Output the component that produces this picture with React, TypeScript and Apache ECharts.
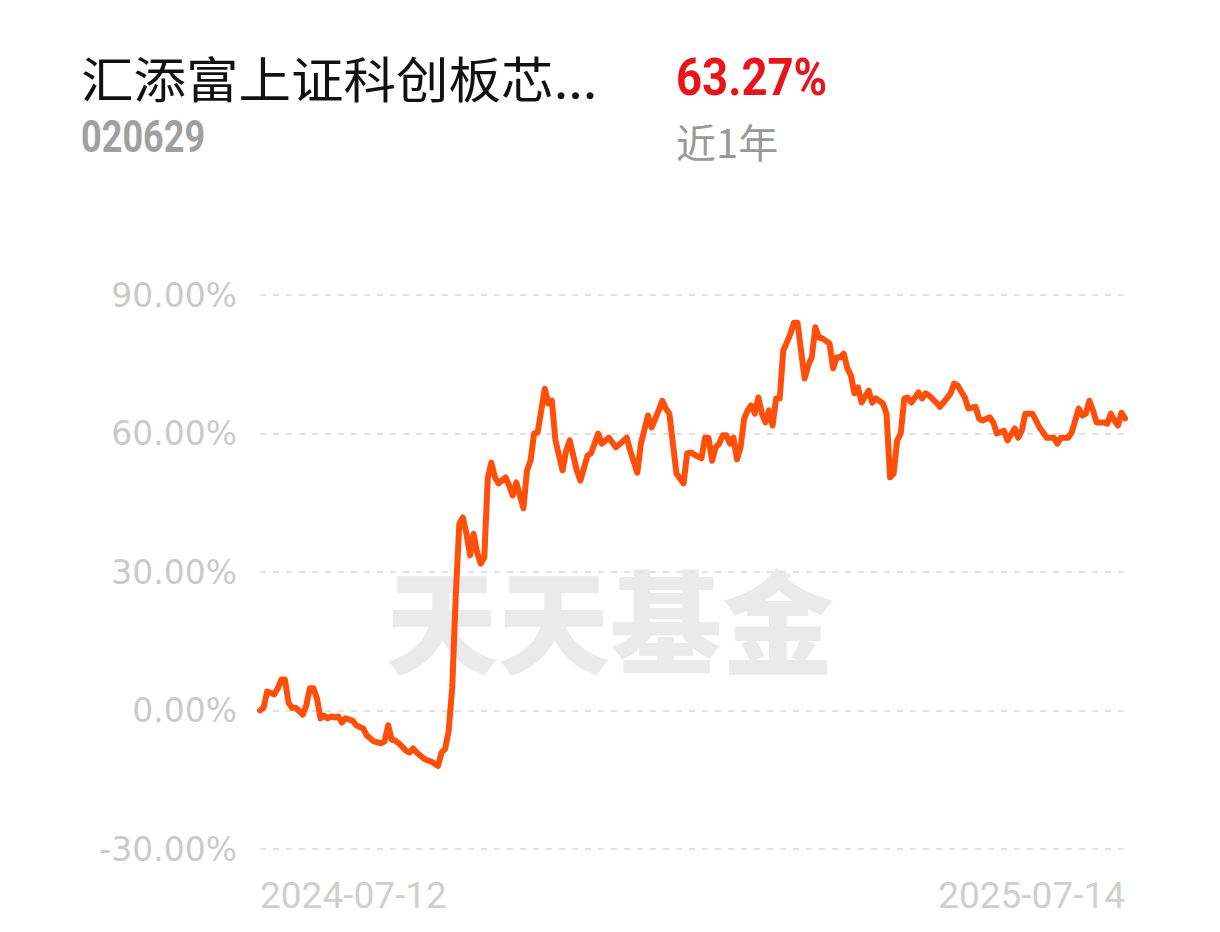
import React, { useEffect, useRef } from "react";
import * as echarts from "echarts";

// trading-day index since 2024-07-12 (0) to 2025-07-14 (243)
const tradingDays = [
  0, 1, 2, 4, 5, 6, 7, 8, 9, 10, 12, 13, 14, 15, 16, 17, 18, 19, 20, 21, 22, 23, 24, 26, 27, 29, 30, 32, 34, 35,
  36, 37, 38, 39, 41, 42, 43, 44, 46, 47, 48, 50, 51, 52, 53, 54, 55, 56, 57, 58, 59, 60, 61, 62, 63, 64, 65, 66, 67, 69,
  70, 71, 72, 74, 75, 76, 77, 78, 80, 81, 82, 83, 85, 86, 87, 89, 90, 92, 93, 95, 96, 98, 100, 103, 104, 106, 107, 109, 110, 112,
  113, 114, 115, 116, 117, 119, 120, 121, 123, 124, 125, 126, 127, 128, 129, 130, 131, 132, 133, 134, 135, 136, 137, 138, 139, 140, 141, 142, 143, 144,
  145, 146, 147, 148, 149, 150, 151, 153, 154, 155, 156, 157, 158, 160, 161, 162, 163, 164, 165, 166, 167, 168, 169, 171, 172, 173, 175, 176, 177, 178,
  179, 180, 181, 182, 183, 185, 186, 187, 188, 190, 191, 192, 194, 195, 196, 198, 199, 200, 201, 202, 203, 205, 206, 207, 209, 210, 212, 213, 214, 215,
  217, 219, 220, 221, 223, 224, 225, 227, 228, 230, 231, 232, 233, 234, 235, 237, 238, 239, 240, 241, 242, 243,
];

// cumulative return (%)
const returns = [
  0.0, 0.6, 4.1, 3.5, 4.8, 6.7, 6.7, 1.7, 0.6, 0.6, -0.9, 1.1, 4.8, 4.8, 2.6, -1.7, -1.1, -1.7, -1.3, -1.5, -1.3, -2.6, -1.7, -2.2, -3.2, -3.9, -5.4, -6.7, -7.1, -6.7,
  -3.2, -6.3, -6.5, -7.1, -8.7, -9.1, -8.2, -9.1, -10.4, -10.8, -11.0, -12.0, -9.1, -8.3, -4.5, 5.0, 25.0, 40.5, 41.8, 38.3, 33.6, 38.3, 34.2, 31.8, 33.1, 50.5, 53.7, 50.5, 49.2, 50.5,
  48.7, 46.6, 49.4, 43.8, 52.0, 54.1, 60.0, 60.2, 69.7, 66.5, 67.1, 58.5, 52.0, 56.3, 58.5, 52.0, 49.8, 55.2, 55.7, 60.0, 57.8, 59.1, 57.0, 59.1, 56.3, 51.5, 57.8, 63.9, 61.3, 65.0,
  67.1, 65.4, 64.3, 57.8, 51.3, 49.2, 55.7, 55.9, 55.0, 54.6, 59.1, 59.1, 54.1, 57.0, 57.8, 59.6, 59.6, 57.8, 59.1, 54.4, 57.0, 63.2, 65.0, 66.1, 64.3, 67.8, 64.3, 62.4, 65.0, 61.7,
  67.6, 67.6, 78.0, 79.7, 81.6, 84.0, 84.0, 71.9, 74.7, 76.5, 83.0, 80.8, 80.6, 79.5, 74.1, 76.5, 76.5, 77.3, 74.1, 72.6, 68.7, 70.0, 66.7, 69.3, 66.7, 67.6, 66.5, 64.3, 50.5, 51.3,
  58.5, 60.0, 67.6, 67.8, 66.7, 68.9, 67.6, 68.7, 68.2, 66.7, 65.8, 66.7, 68.7, 70.8, 70.4, 67.8, 65.4, 65.6, 65.8, 63.2, 62.8, 63.5, 62.4, 60.0, 60.6, 58.5, 61.1, 59.1, 60.6, 64.3,
  64.3, 61.3, 60.2, 59.1, 59.1, 57.8, 59.1, 59.1, 60.2, 65.4, 63.9, 64.3, 67.1, 65.0, 62.4, 62.4, 62.1, 64.3, 62.8, 61.7, 64.5, 63.27,
];

const xTickLabels = ["2024-07-12", "2025-07-14"];
const yTicks = [-30, 0, 30, 60, 90];

const fundName = "汇添富上证科创板芯...";
const fundCode = "020629";
const periodReturn = "63.27%";
const periodLabel = "近1年";
const watermark = "天天基金";

export default function App() {
  const ref = useRef<HTMLDivElement>(null);

  useEffect(() => {
    if (!ref.current) return;
    const chart = echarts.init(ref.current, undefined, { renderer: "svg" });
    const lastDay = tradingDays[tradingDays.length - 1];
    const data = tradingDays.map((d, i) => [d, returns[i]]);

    chart.setOption({
      animation: false,
      backgroundColor: "#ffffff",
      grid: { left: 260, right: 95, top: 295, bottom: 83, containLabel: false },
      graphic: [
        {
          type: "text",
          x: 610,
          y: 617,
          z: -10,
          silent: true,
          style: {
            text: watermark,
            fontSize: 112,
            fontWeight: 900,
            fontFamily: "Noto Sans CJK SC",
            fill: "#eaeaea",
            align: "center",
            verticalAlign: "middle",
          },
        },
        {
          type: "text",
          x: 81,
          y: 77,
          scaleX: 1.072,
          style: {
            text: fundName,
            fontSize: 49,
            fontFamily: "Noto Sans CJK SC",
            fill: "#111111",
            align: "left",
            verticalAlign: "middle",
          },
        },
        {
          type: "text",
          x: 81,
          y: 137,
          scaleX: 0.82,
          style: {
            text: fundCode,
            fontSize: 44,
            fontWeight: "bold",
            fontFamily: "Roboto",
            fill: "#a0a0a0",
            align: "left",
            verticalAlign: "middle",
          },
        },
        {
          type: "text",
          x: 676,
          y: 77,
          scaleX: 0.875,
          style: {
            text: periodReturn,
            fontSize: 52,
            fontWeight: "bold",
            fontFamily: "Roboto",
            fill: "#e8141c",
            align: "left",
            verticalAlign: "middle",
          },
        },
        {
          type: "text",
          x: 676,
          y: 141,
          style: {
            text: periodLabel,
            fontSize: 40,
            fontFamily: "Noto Sans CJK SC",
            fill: "#999999",
            align: "left",
            verticalAlign: "middle",
          },
        },
      ],
      xAxis: {
        type: "value",
        min: 0,
        max: lastDay,
        interval: lastDay,
        axisLine: { show: false },
        axisTick: { show: false },
        splitLine: { show: false },
        axisLabel: {
          margin: 28,
          fontSize: 37,
          fontFamily: "Roboto",
          color: "#cfcfcf",
          alignMinLabel: "left",
          alignMaxLabel: "right",
          formatter: (v: number) => (v === 0 ? xTickLabels[0] : v === lastDay ? xTickLabels[1] : ""),
        },
      },
      yAxis: {
        type: "value",
        min: yTicks[0],
        max: yTicks[yTicks.length - 1],
        interval: 30,
        axisLine: { show: false },
        axisTick: { show: false },
        axisLabel: {
          margin: 23,
          fontSize: 33,
          fontFamily: "DejaVu Sans",
          color: "#cacaca",
          formatter: (v: number) => v.toFixed(2) + "%",
        },
        splitLine: {
          show: true,
          lineStyle: { color: "#e2e2e2", width: 2, type: [6, 7] },
        },
      },
      series: [
        {
          type: "line",
          data,
          showSymbol: false,
          symbol: "none",
          lineStyle: { color: "#ff4f0a", width: 6, join: "round", cap: "round" },
          z: 5,
        },
      ],
    });

    return () => chart.dispose();
  }, []);

  return (
    <div
      ref={ref}
      style={{ position: "absolute", left: 0, top: 0, width: 1220, height: 932, background: "#fff" }}
    />
  );
}
